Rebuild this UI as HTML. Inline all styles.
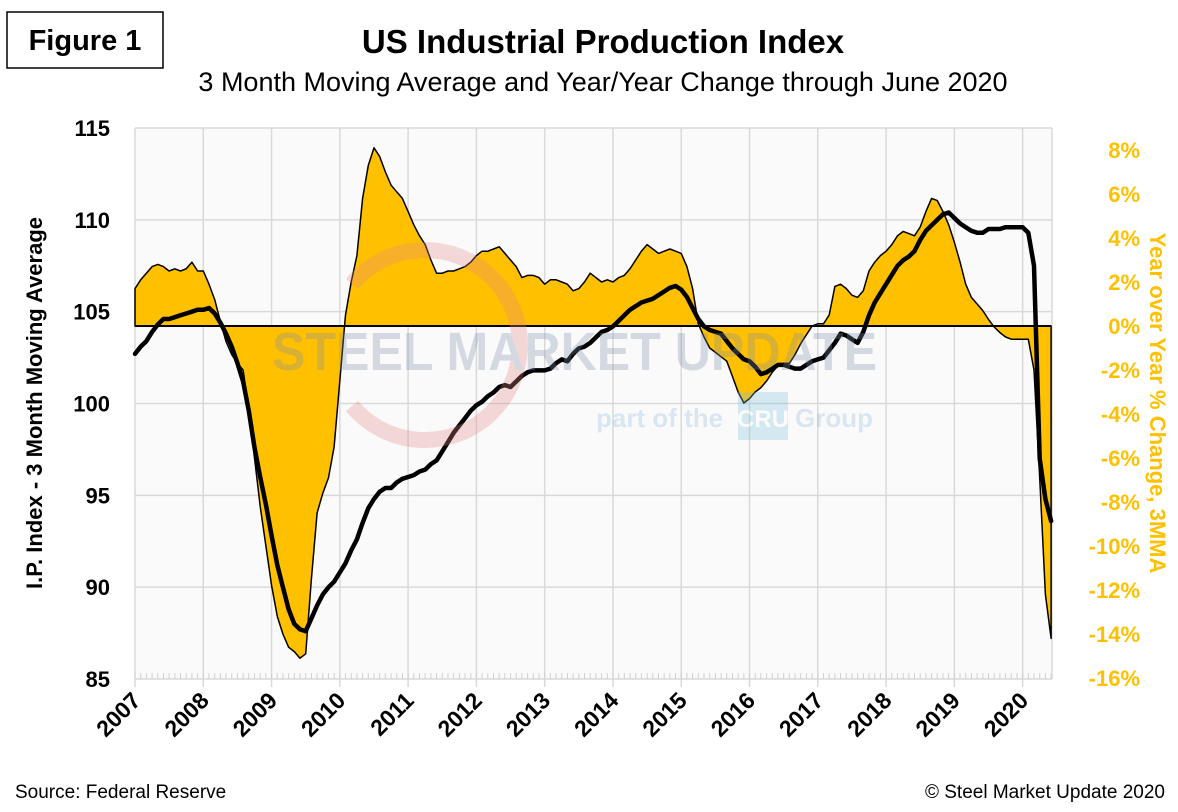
<!DOCTYPE html>
<html><head><meta charset="utf-8">
<style>
body{margin:0;background:#fff;width:1178px;height:807px;overflow:hidden;font-family:"Liberation Sans",sans-serif;}
</style></head>
<body>
<svg id="chart" width="1178" height="807" xmlns="http://www.w3.org/2000/svg">
<rect x="7" y="12" width="156" height="56" fill="#fff" stroke="#000" stroke-width="1.5"/>
<text x="85" y="50" text-anchor="middle" font-size="29" font-weight="bold">Figure 1</text>
<text x="603" y="53" text-anchor="middle" font-size="33" font-weight="bold">US Industrial Production Index</text>
<text x="603" y="91" text-anchor="middle" font-size="27">3 Month Moving Average and Year/Year Change through June 2020</text>
<rect x="135" y="128" width="917" height="551" fill="#fafafa"/>
<g id="grid"></g>
<g id="series"></g>
<g id="wm" opacity="0.3">
<path d="M 352 284 A 95 95 0 1 1 352 406" fill="none" stroke="#e58a8a" stroke-width="16"/>
<text x="272" y="370" font-size="54" font-weight="bold" fill="#7f8fab" textLength="605" lengthAdjust="spacingAndGlyphs">STEEL MARKET UPDATE</text>
<text x="596" y="427" font-size="26" font-weight="bold" fill="#8fbbe0">part of the</text>
<rect x="738" y="392" width="50" height="48" fill="#7fbfe3"/>
<text x="763" y="427" font-size="24" font-weight="bold" fill="#fff" text-anchor="middle">CRU</text>
<text x="795" y="427" font-size="26" font-weight="bold" fill="#8fbbe0">Group</text>
</g>
<g id="axes"></g>
<text transform="translate(42,403) rotate(-90)" text-anchor="middle" font-size="22" font-weight="bold">I.P. Index - 3 Month Moving Average</text>
<text transform="translate(1150,403) rotate(90)" text-anchor="middle" font-size="22" font-weight="bold" fill="#ffc000">Year over Year % Change, 3MMA</text>
<text x="15" y="798" font-size="19">Source: Federal Reserve</text>
<text x="1165" y="798" text-anchor="end" font-size="19">© Steel Market Update 2020</text>
</svg>
<script>
const years=["2007","2008","2009","2010","2011","2012","2013","2014","2015","2016","2017","2018","2019","2020"];
const leftTicks=[85,90,95,100,105,110,115];
const rightTicks=[8,6,4,2,0,-2,-4,-6,-8,-10,-12,-14,-16];
const ipIndex=[
102.7,103.1,103.4,103.9,104.3,104.6,104.6,104.7,104.8,104.9,105.0,105.1,
105.1,105.2,104.9,104.4,103.8,103.1,102.2,101.2,99.6,97.6,96.0,94.5,
92.8,91.2,90.0,88.8,88.0,87.7,87.6,88.3,89.0,89.6,90.0,90.3,
90.8,91.3,92.0,92.6,93.5,94.3,94.8,95.2,95.4,95.4,95.7,95.9,
96.0,96.1,96.3,96.4,96.7,96.9,97.4,97.9,98.4,98.8,99.2,99.6,
99.9,100.1,100.4,100.6,100.9,101.0,100.9,101.2,101.5,101.7,101.8,101.8,
101.8,101.9,102.2,102.4,102.3,102.7,103.0,103.1,103.3,103.6,103.9,104.0,
104.2,104.5,104.8,105.1,105.3,105.5,105.6,105.7,105.9,106.1,106.3,106.4,
106.2,105.8,105.2,104.6,104.2,104.0,103.9,103.8,103.4,103.0,102.7,102.4,
102.3,102.0,101.6,101.7,101.9,102.1,102.1,102.0,101.9,101.9,102.1,102.3,
102.4,102.5,102.9,103.3,103.8,103.7,103.5,103.3,103.9,104.8,105.5,106.0,
106.5,107.0,107.5,107.8,108.0,108.3,108.9,109.4,109.7,110.0,110.3,110.4,
110.1,109.8,109.6,109.4,109.3,109.3,109.5,109.5,109.5,109.6,109.6,109.6,
109.6,109.3,107.5,97.0,94.8,93.6];
const yoyChange=[
1.7,2.1,2.4,2.7,2.8,2.7,2.5,2.6,2.5,2.6,2.9,2.5,
2.5,1.9,1.2,0.2,-0.7,-1.3,-1.7,-2.0,-3.8,-6.0,-8.2,-10.0,
-11.8,-13.2,-14.0,-14.6,-14.8,-15.1,-14.9,-11.5,-8.5,-7.6,-6.9,-5.5,
-2.5,0.5,2.0,3.2,5.8,7.3,8.1,7.7,7.0,6.4,6.1,5.8,
5.2,4.6,4.1,3.7,3.0,2.4,2.4,2.5,2.5,2.6,2.7,2.9,
3.2,3.4,3.4,3.5,3.6,3.3,3.0,2.7,2.2,2.3,2.3,2.2,
1.9,2.1,2.1,2.0,1.9,1.6,1.7,2.0,2.4,2.2,2.0,2.1,
2.0,2.2,2.3,2.6,3.0,3.4,3.7,3.5,3.3,3.4,3.5,3.4,
3.3,2.7,1.7,0.1,-0.5,-1.0,-1.2,-1.4,-1.6,-2.3,-3.0,-3.5,
-3.3,-3.0,-2.8,-2.5,-2.1,-1.8,-1.7,-1.7,-1.3,-0.8,-0.4,0.0,
0.1,0.1,0.5,1.8,1.9,1.7,1.4,1.3,1.6,2.5,2.9,3.2,
3.4,3.7,4.1,4.3,4.2,4.1,4.5,5.2,5.8,5.7,5.2,4.6,
3.8,2.9,1.9,1.3,1.0,0.7,0.3,-0.05,-0.3,-0.5,-0.6,-0.6,
-0.6,-0.6,-2.0,-6.9,-12.2,-14.2];

const NS='http://www.w3.org/2000/svg';
const X0=135,STEP=5.69,PL=135,PR=1052,PT=128,PB=679;
function xm(i){return X0+i*STEP;}
function yL(v){return PB-(v-85)*(PB-PT)/30;}
function yR(p){return 326-p*22;}
function mk(tag,attrs,parent){const e=document.createElementNS(NS,tag);for(const k in attrs)e.setAttribute(k,attrs[k]);parent.appendChild(e);return e;}
const grid=document.getElementById('grid'),axes=document.getElementById('axes'),series=document.getElementById('series');

leftTicks.forEach(v=>{
  const l=mk('line',{x1:PL,x2:PR,y1:yL(v),y2:yL(v),stroke:'#d9d9d9','stroke-width':1.5},grid);
  
  
  const t=mk('text',{x:110,y:yL(v)+8,'text-anchor':'end','font-size':22,'font-weight':'bold'},axes);
  t.textContent=v;
  
  
});
rightTicks.forEach(p=>{
  const t=mk('text',{x:1140,y:yR(p)+8,'text-anchor':'end','font-size':22,'font-weight':'bold',fill:'#ffc000'},axes);
  t.textContent=p+'%';
  
  
});
years.forEach((y,i)=>{
  const x=xm(i*12);
  const l=mk('line',{x1:x,x2:x,y1:PT,y2:PB+8,stroke:'#d9d9d9','stroke-width':1.5},grid);
  
  
  const t=mk('text',{x:0,y:0,'text-anchor':'end','font-size':23,'font-weight':'bold',transform:`translate(${x+7},${PB+23}) rotate(-45)`},axes);
  t.textContent=y;
  
  
});
for(let i=0;i<ipIndex.length;i++){
  const x=xm(i);
  const l=mk('line',{x1:x,x2:x,y1:PB-6,y2:PB,stroke:'#d0d0d0','stroke-width':1},grid);
  
  
}
mk('line',{x1:PR,x2:PR,y1:PT,y2:PB,stroke:'#d9d9d9','stroke-width':1.5},grid);

let d=`M ${xm(0)} ${yR(0)} `;
yoyChange.forEach((p,i)=>{d+=`L ${xm(i).toFixed(1)} ${yR(p).toFixed(1)} `;});
d+=`L ${xm(yoyChange.length-1)} ${yR(0)} Z`;
const area=mk('path',{d:d,fill:'#ffc000',stroke:'#000','stroke-width':1.5,'stroke-linejoin':'round'},series);


const zl=mk('line',{x1:xm(0),x2:xm(yoyChange.length-1),y1:yR(0),y2:yR(0),stroke:'#000','stroke-width':2},series);


const pts=ipIndex.map((v,i)=>xm(i).toFixed(1)+','+yL(v).toFixed(1)).join(' ');
const ln=mk('polyline',{points:pts,fill:'none',stroke:'#000','stroke-width':4.5,'stroke-linejoin':'round','stroke-linecap':'round'},series);


</script>
</body></html>
